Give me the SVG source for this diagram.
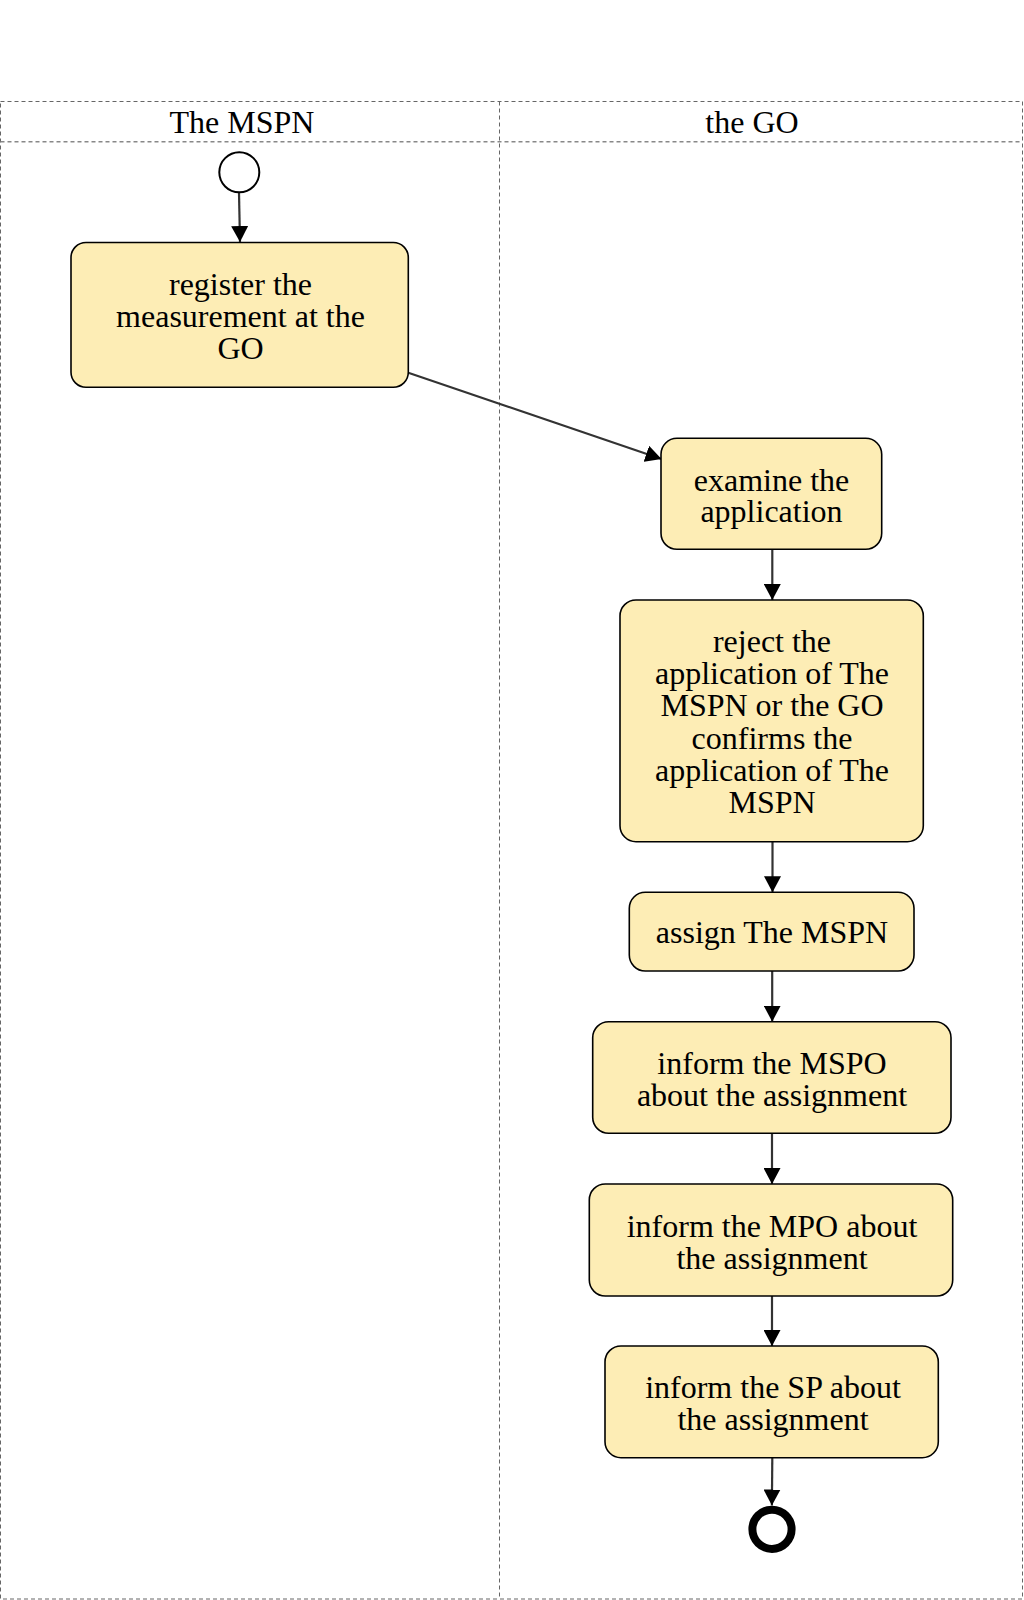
<svg xmlns="http://www.w3.org/2000/svg" width="1024" height="1600" viewBox="0 0 1024 1600">
<style>
  .lane-border { fill: none; stroke: #666; stroke-width: 1; stroke-dasharray: 4 3; }
  .lane-head { fill: none; stroke: #888; stroke-width: 1.6; stroke-dasharray: 4 3; }
  .task rect { fill: #fdedb5; stroke: #000; stroke-width: 1.6; }
  .label { font-family: "Liberation Serif", "Times New Roman", serif; font-size: 32px; fill: #000; text-anchor: middle; }
  .flow { fill: none; stroke: #333; stroke-width: 2.2; marker-end: url(#arrow); }
</style>
<defs>
  <marker id="arrow" markerUnits="userSpaceOnUse" markerWidth="16" markerHeight="17" viewBox="0 0 16 17" refX="16" refY="8.5" orient="auto">
    <path d="M0,0 L16,8.5 L0,17 Z" fill="#000"/>
  </marker>
</defs>
<rect width="1024" height="1600" fill="#fff"/>
<g id="lanes">
  <rect class="lane-border" x="0.5" y="101.5" width="1022" height="1497.5" stroke="#333"/>
  <line class="lane-head" x1="0.5" y1="141.7" x2="1022.5" y2="141.7"/>
  <line class="lane-border" x1="499.5" y1="101.5" x2="499.5" y2="1599"/>
  <text class="label" x="242" y="133">The MSPN</text>
  <text class="label" x="752" y="133">the GO</text>
</g>
<g id="connectors">
  <path class="flow" d="M239,193 L240,242"/>
  <path class="flow" d="M408.3,372.7 L661.5,459"/>
  <path class="flow" d="M772.3,549.3 L772.3,600"/>
  <path class="flow" d="M772.5,842 L772.5,892.3"/>
  <path class="flow" d="M772.2,971 L772.2,1021.7"/>
  <path class="flow" d="M772,1133.3 L772,1184"/>
  <path class="flow" d="M772,1296 L772,1346"/>
  <path class="flow" d="M772.3,1457.7 L771.9,1505.5"/>
</g>
<g id="start">
  <circle cx="239.3" cy="172.3" r="20" fill="#fff" stroke="#000" stroke-width="2"/>
</g>
<g id="task-register" class="task">
  <rect x="71" y="242.5" width="337.3" height="144.8" rx="15" ry="15"/>
  <text class="label"><tspan x="240.5" y="295.2">register the</tspan><tspan x="240.5" y="327.2">measurement at the</tspan><tspan x="240.5" y="359.2">GO</tspan></text>
</g>
<g id="task-examine" class="task">
  <rect x="661" y="438.3" width="220.7" height="111" rx="16" ry="16"/>
  <text class="label"><tspan x="771.5" y="490.5">examine the</tspan><tspan x="771.5" y="522.3">application</tspan></text>
</g>
<g id="task-reject" class="task">
  <rect x="620" y="600" width="303.3" height="241.7" rx="16" ry="16"/>
  <text class="label"><tspan x="772" y="651.7">reject the</tspan><tspan x="772" y="684">application of The</tspan><tspan x="772" y="716.3">MSPN or the GO</tspan><tspan x="772" y="748.6">confirms the</tspan><tspan x="772" y="781">application of The</tspan><tspan x="772" y="813.3">MSPN</tspan></text>
</g>
<g id="task-assign" class="task">
  <rect x="629.3" y="892.3" width="284.7" height="78.7" rx="16" ry="16"/>
  <text class="label" x="772" y="943.3">assign The MSPN</text>
</g>
<g id="task-inform-mspo" class="task">
  <rect x="592.7" y="1021.7" width="358.3" height="111.6" rx="16" ry="16"/>
  <text class="label"><tspan x="772" y="1074">inform the MSPO</tspan><tspan x="772" y="1106">about the assignment</tspan></text>
</g>
<g id="task-inform-mpo" class="task">
  <rect x="589.3" y="1184" width="363.4" height="112" rx="16" ry="16"/>
  <text class="label"><tspan x="772" y="1236.7">inform the MPO about</tspan><tspan x="772" y="1268.5">the assignment</tspan></text>
</g>
<g id="task-inform-sp" class="task">
  <rect x="605" y="1346" width="333.3" height="111.7" rx="16" ry="16"/>
  <text class="label"><tspan x="773" y="1398.3">inform the SP about</tspan><tspan x="773" y="1430">the assignment</tspan></text>
</g>
<g id="end">
  <circle cx="772" cy="1529.3" r="19.6" fill="#fff" stroke="#000" stroke-width="8"/>
</g>
</svg>
